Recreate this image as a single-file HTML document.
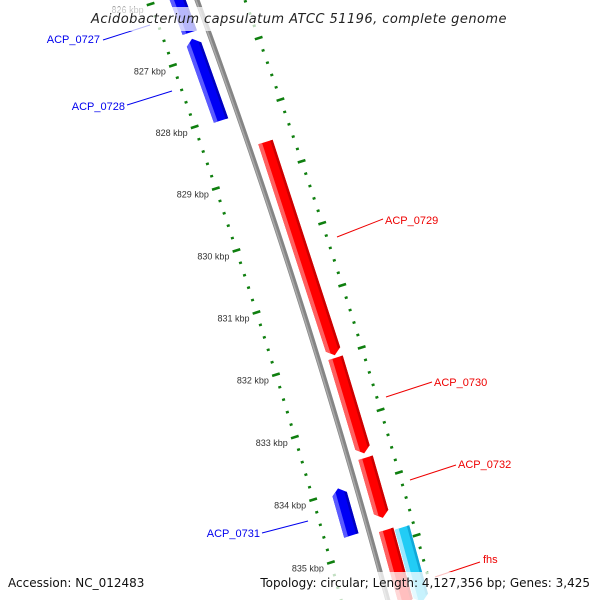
<!DOCTYPE html>
<html><head><meta charset="utf-8"><style>
html,body{margin:0;padding:0;background:#fff;overflow:hidden;width:600px;height:600px;}
svg{display:block;overflow:hidden;font-family:"Liberation Sans","DejaVu Sans",sans-serif;}
</style></head><body>
<svg id="chart" width="600" height="600" viewBox="0 0 600 600">
<g id="marks"></g>
<rect x="86" y="7" width="428" height="24" fill="#fff" fill-opacity="0.72"/>
<text x="299" y="23" text-anchor="middle" font-size="13" font-style="italic" fill="#222" letter-spacing="0.45" font-family="DejaVu Sans, sans-serif">Acidobacterium capsulatum ATCC 51196, complete genome</text>
<rect x="0" y="572" width="600" height="28" fill="#fff" fill-opacity="0.75"/>
<text x="8" y="587" font-size="12" fill="#111" font-family="DejaVu Sans, sans-serif">Accession: NC_012483</text>
<text x="590" y="587" text-anchor="end" font-size="12" fill="#111" font-family="DejaVu Sans, sans-serif">Topology: circular; Length: 4,127,356 bp; Genes: 3,425</text>
</svg>
<script>
const geneNames = ["ACP_0727","ACP_0728","ACP_0729","ACP_0730","ACP_0732","ACP_0731","fhs","cyan-feature"];
const geneStart = [825.4, 826.7, 828.55, 832.03, 833.63, 833.95, 834.78, 834.82];
const geneEnd   = [826.6, 828.03, 831.99, 833.56, 834.59, 834.70, 836.0, 836.0];
const geneStrand = [-1, -1, 1, 1, 1, -1, 1, 2];
const labelNames = ["ACP_0727","ACP_0728","ACP_0729","ACP_0730","ACP_0732","ACP_0731","fhs"];
const tickMajors = [826,827,828,829,830,831,832,833,834,835];
const tickLabels = ["826 kbp","827 kbp","828 kbp","829 kbp","830 kbp","831 kbp","832 kbp","833 kbp","834 kbp","835 kbp"];

const NS="http://www.w3.org/2000/svg";
const g=document.getElementById('marks');
const ux=0.303, uy=0.953, nx=0.953, ny=-0.303, ox=197, oy=0;
function bulge(ly){const t=(ly-315)/315;return 7*(1-t*t);}
function yOf(kbp){return 55+(kbp-827)*65.2;}
function pt(lx,ly){const b=lx+bulge(ly);return [ox+ly*ux+b*nx, oy+ly*uy+b*ny];}
function mk(tag,attrs){const e=document.createElementNS(NS,tag);for(const k in attrs)e.setAttribute(k,attrs[k]);g.appendChild(e);return e;}
function poly(pts){return pts.map(p=>{const s=pt(p[0],p[1]);return s[0].toFixed(1)+','+s[1].toFixed(1);}).join(' ');}

// backbone
const bb=[];for(let ly=-20;ly<=640;ly+=20)bb.push(pt(0,ly));
let bp=mk('polyline',{points:bb.map(p=>p.join(',')).join(' '),fill:'none',stroke:'#858585','stroke-width':5});


let bh=mk('polyline',{points:bb.map(p=>(p[0]-1)+','+(p[1]+0.3)).join(' '),fill:'none',stroke:'#aaaaaa','stroke-width':1.5});



// ticks
for(let k=8258;k<=8356;k+=2){
  const kbp=k/10, ly=yOf(kbp), major=(k%10===0);
  for(const side of [-45,45]){
    const len=major?4:1.5;
    const a=pt(side-len,ly), b=pt(side+len,ly);
    const t=mk('line',{x1:a[0],y1:a[1],x2:b[0],y2:b[1],stroke:'#0f7f0f','stroke-width':major?2.6:2.4});
    
    
  }
}
tickMajors.forEach((kbp,i)=>{
  const p=pt(-45,yOf(kbp));
  const t=mk('text',{x:p[0]-7,y:p[1]+9,'text-anchor':'end','font-size':9,fill:'#333'});
  t.textContent=tickLabels[i];
  
  
});

// genes
const colors={'-1':['#0000f5','#5a5aff','#0000c0'],'1':['#ff0000','#ff6060','#cc0000'],'2':['#22ccf5','#99e8ff','#10a8d8']};
const center={'-1':-18,'1':17,'2':33};
geneNames.forEach((nm,i)=>{
  const s=geneStrand[i], c=center[s], w=7.5, h=6;
  const y1=yOf(geneStart[i]), y2=yOf(geneEnd[i]);
  let pts, strip, dark;
  if(s<0){pts=[[c,y1],[c+w,y1+h],[c+w,y2],[c-w,y2],[c-w,y1+h]];strip=[[c-w,y1+h],[c-w+4,y1+3],[c-w+4,y2],[c-w,y2]];dark=[[c+w-2.5,y1+h-1],[c+w,y1+h],[c+w,y2],[c+w-2.5,y2]];}
  else {pts=[[c-w,y1],[c+w,y1],[c+w,y2-h],[c,y2],[c-w,y2-h]];strip=[[c-w,y1],[c-w+4,y1],[c-w+4,y2-3],[c-w,y2-h]];dark=[[c+w-2.5,y1],[c+w,y1],[c+w,y2-h],[c+w-2.5,y2-h+1]];}
  const e=mk('polygon',{points:poly(pts),fill:colors[s][0]});
  
  
  const st=mk('polygon',{points:poly(strip),fill:colors[s][1]});
  
  
  const dk=mk('polygon',{points:poly(dark),fill:colors[s][2]});
  
  
});

// gene labels (screen placement)
const lab=[["ACP_0727",100,43,103,40,150,25,'end','#0000ee'],["ACP_0728",125,110,127,105,172,91,'end','#0000ee'],
["ACP_0729",385,224,337,237,383,219,'start','#ee0000'],["ACP_0730",434,386,386,397,432,382,'start','#ee0000'],
["ACP_0732",458,468,410,480,456,465,'start','#ee0000'],["ACP_0731",260,537,262,533,308,521,'end','#0000ee'],
["fhs",483,563,435,577,480,562,'start','#ee0000']];
labelNames.forEach((nm,i)=>{
  const L=lab[i];
  const ln=mk('line',{x1:L[3],y1:L[4],x2:L[5],y2:L[6],stroke:L[8],'stroke-width':1});
  
  
  const t=mk('text',{x:L[1],y:L[2],'text-anchor':L[7],'font-size':11,fill:L[8]});
  t.textContent=nm;
  
  
});
</script>
</body></html>
